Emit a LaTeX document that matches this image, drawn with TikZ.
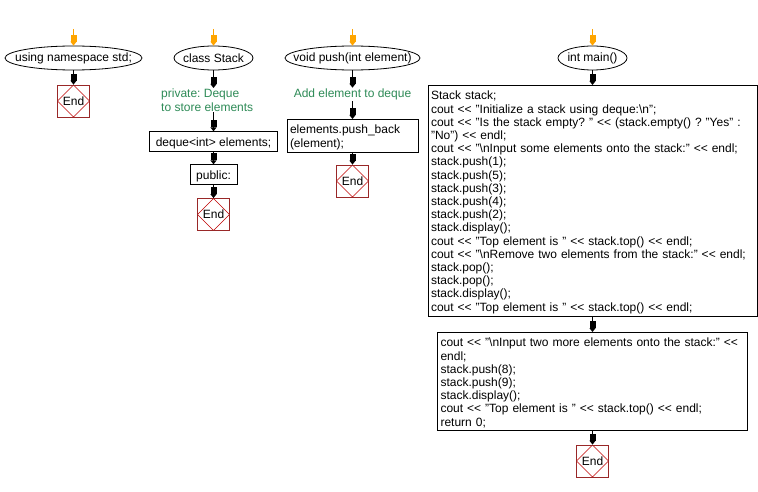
\documentclass[tikz,border=0pt]{standalone}
\usepackage{fontspec}
\setmainfont{Liberation Sans}
\usepackage{xcolor}
\usepackage{tikz}
\usetikzlibrary{arrows.meta,shapes.geometric}

\definecolor{startorange}{RGB}{255,165,0}
\definecolor{notegreen}{RGB}{46,139,87}
\definecolor{endred}{RGB}{153,40,40}
\newcommand{\shl}{<{}<}
\frenchspacing

\begin{document}
\begin{tikzpicture}[x=1pt, y=-1pt, font=\fontsize{12}{13.2}\selectfont,
  >={Rectangle[width=6pt,length=7pt] Triangle[width=6pt,length=4pt]},
  flow/.style={->, line width=1.2pt},
  startflow/.style={->, line width=1pt, startorange},
  term/.style={ellipse, draw, line width=0.8pt, inner xsep=-40pt, inner ysep=-10pt, minimum height=24pt},
  code/.style={draw, line width=0.8pt, align=left, inner xsep=3pt, inner ysep=2.5pt, text height=12pt},
  note/.style={notegreen, align=left, inner sep=1pt},
  stop/.style={draw=endred, line width=0.8pt, minimum size=32pt, inner sep=0pt,
    path picture={\draw[red!75!black, line width=0.5pt] (path picture bounding box.north)
      -- (path picture bounding box.east) -- (path picture bounding box.south)
      -- (path picture bounding box.west) -- cycle;}}]
  \fill[white] (0,0) rectangle (758,492);
  \useasboundingbox (0,0) rectangle (758,492);

  \coordinate (topStd) at (73.5,29);
  \node[term, minimum width=137pt] (nsStd) at (73.5,58) {using namespace std;};
  \node[stop] (endStd) at (73.5,101) {End};
  \draw[startflow] (topStd) -- (nsStd);
  \draw[flow] (nsStd) -- (endStd);

  \coordinate (topStack) at (213.5,29);
  \node[term, minimum width=79pt] (clsStack) at (213.5,58) {class Stack};
  \node[note, anchor=north west] (noteDeque) at (160,88) {private: Deque\\to store elements};
  \node[code, minimum width=128pt] (boxDeque) at (213.5,141.5) {deque<int> elements;};
  \node[code, minimum width=47pt] (boxPublic) at (213.5,174.5) {public:};
  \node[stop] (endStack) at (213.5,214.5) {End};
  \draw[startflow] (topStack) -- (clsStack);
  \draw[flow] (clsStack) -- (clsStack |- noteDeque.north);
  \draw[flow] (clsStack |- noteDeque.south) -- (boxDeque);
  \draw[flow] (boxDeque) -- (boxPublic);
  \draw[flow] (boxPublic) -- (endStack);

  \coordinate (topPush) at (352.5,29);
  \node[term, minimum width=135pt] (fnPush) at (352.5,58) {void push(int element)};
  \node[note] (notePush) at (352.5,94.5) {Add element to deque};
  \node[code, text width=125pt, anchor=north] (boxPush) at (352.5,119) {elements.push\_back\\(element);};
  \node[stop] (endPush) at (352.5,181) {End};
  \draw[startflow] (topPush) -- (fnPush);
  \draw[flow] (fnPush) -- (notePush);
  \draw[flow] (notePush) -- (boxPush);
  \draw[flow] (boxPush) -- (endPush);

  \coordinate (topMain) at (592.5,29);
  \node[term, minimum width=69pt] (fnMain) at (592.5,58) {int main()};
  \node[code, text width=323pt, anchor=north] (boxMain) at (592.5,85) {Stack stack;\\
    cout \shl{} "Initialize a stack using deque:\textbackslash n";\\
    cout \shl{} "Is the stack empty? " \shl{} (stack.empty() ? "Yes" :\\
    "No") \shl{} endl;\\
    cout \shl{} "\textbackslash nInput some elements onto the stack:" \shl{} endl;\\
    stack.push(1);\\
    stack.push(5);\\
    stack.push(3);\\
    stack.push(4);\\
    stack.push(2);\\
    stack.display();\\
    cout \shl{} "Top element is " \shl{} stack.top() \shl{} endl;\\
    cout \shl{} "\textbackslash nRemove two elements from the stack:" \shl{} endl;\\
    stack.pop();\\
    stack.pop();\\
    stack.display();\\
    cout \shl{} "Top element is " \shl{} stack.top() \shl{} endl;};
  \node[code, text width=304pt, anchor=north] (boxMainB) at (592.5,332) {cout \shl{} "\textbackslash nInput two more elements onto the stack:" \shl\\
    endl;\\
    stack.push(8);\\
    stack.push(9);\\
    stack.display();\\
    cout \shl{} "Top element is " \shl{} stack.top() \shl{} endl;\\
    return 0;};
  \node[stop] (endMain) at (592.5,461) {End};
  \draw[startflow] (topMain) -- (fnMain);
  \draw[flow] (fnMain) -- (boxMain);
  \draw[flow] (boxMain) -- (boxMainB);
  \draw[flow] (boxMainB) -- (endMain);
\end{tikzpicture}
\end{document}
